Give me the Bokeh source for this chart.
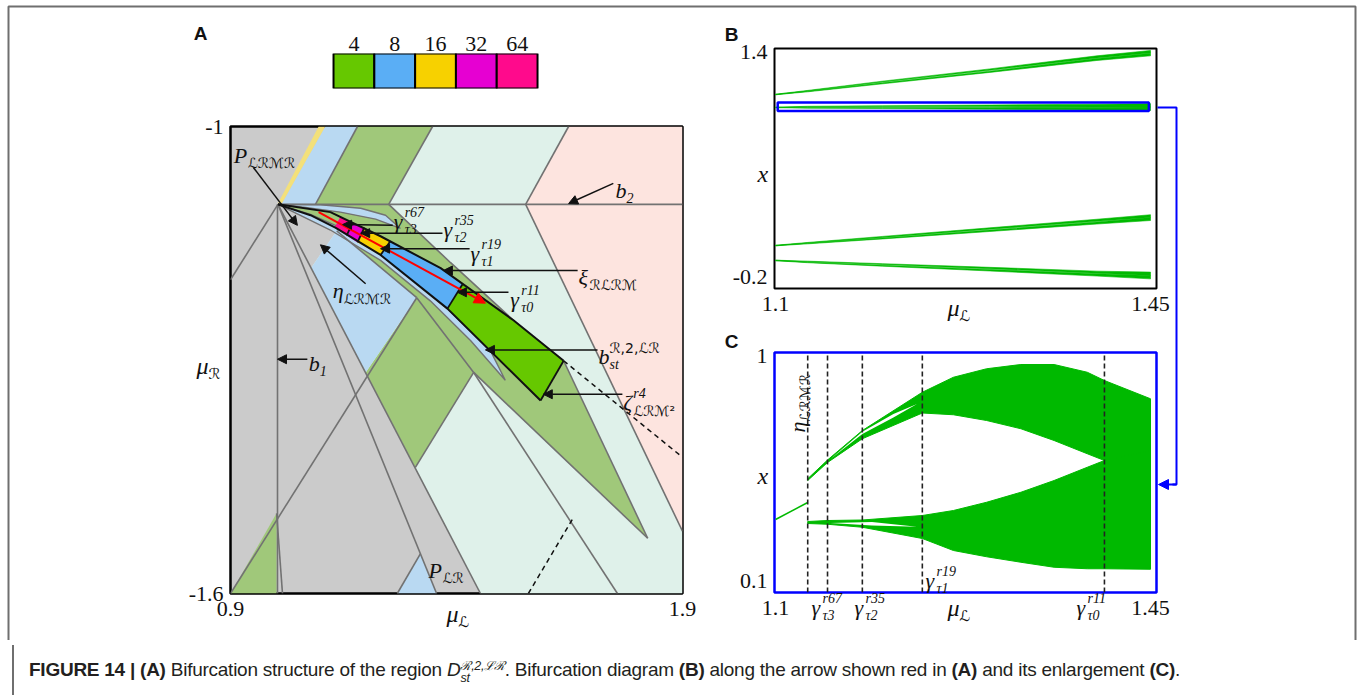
from math import pi, cos, sin
from bokeh.plotting import figure
from bokeh.models import Label, Arrow, NormalHead, FixedTicker, Range1d, Div
from bokeh.layouts import row, column
from bokeh.embed import file_html
from bokeh.resources import INLINE

# ============================ DATA ============================
# legend: period of the attractor
periods = ["4", "8", "16", "32", "64"]
period_colors = ["#66c800", "#5aaef5", "#f7d100", "#e600d2", "#ff0a8c"]

# ---- panel A : parameter plane (mu_L, mu_R) ----
a_xticks = [0.9, 1.9]
a_xlabels = ["0.9", "1.9"]
a_yticks = [-1.6, -1.0]
a_ylabels = ["-1.6", "-1"]

yel_l = [1.095, 1.110, 1.013, 1.004]
yel_r = [-1.0, -1.0, -1.1, -1.1]
blu1_l = [1.110, 1.181, 1.088, 1.013]
blu1_r = [-1.0, -1.0, -1.1, -1.1]
grn1_l = [1.181, 1.347, 1.250, 1.088]
grn1_r = [-1.0, -1.0, -1.1, -1.1]
mint1_l = [1.347, 1.648, 1.553, 1.250]
mint1_r = [-1.0, -1.0, -1.1, -1.1]
pink_l = [1.648, 1.9, 1.9, 1.553]
pink_r = [-1.0, -1.0, -1.52, -1.1]
mint2_l = [1.005, 1.553, 1.9, 1.9, 1.453, 1.079, 1.135]
mint2_r = [-1.1, -1.1, -1.52, -1.6, -1.6, -1.181, -1.134]
grn2_l = [1.005, 1.250, 1.387, 1.526, 1.637, 1.730, 1.823, 1.630, 1.438, 1.309, 1.199, 1.312, 1.135]
grn2_r = [-1.1, -1.1, -1.175, -1.249, -1.301, -1.416, -1.529, -1.423, -1.316, -1.438, -1.316, -1.220, -1.134]
eta_l = [1.135, 1.312, 1.199, 1.079]
eta_r = [-1.134, -1.220, -1.316, -1.181]
trig_l = [0.9, 1.002, 1.002]
trig_r = [-1.6, -1.497, -1.6]
trib_l = [1.269, 1.320, 1.356]
trib_r = [-1.6, -1.549, -1.6]
usl_l = [1.005, 1.099, 1.188, 1.243, 1.276, 1.221, 1.143, 1.066]
usl_r = [-1.1, -1.1005, -1.105, -1.114, -1.131, -1.119, -1.110, -1.104]
lsl_l = [1.005, 1.077, 1.132, 1.232, 1.380, 1.475, 1.508, 1.431, 1.342, 1.232, 1.121]
lsl_r = [-1.1, -1.113, -1.127, -1.163, -1.234, -1.288, -1.326, -1.275, -1.224, -1.172, -1.133]

# the absorbing strip (upper / lower black curves) and its period boxes
up_l = [1.005, 1.121, 1.232, 1.365, 1.526, 1.637]
up_r = [-1.1, -1.110, -1.141, -1.182, -1.249, -1.301]
lo_l = [1.005, 1.077, 1.132, 1.232, 1.380, 1.586]
lo_r = [-1.1, -1.114, -1.130, -1.165, -1.234, -1.352]
cut_up_l = [1.143, 1.170, 1.196, 1.254, 1.413, 1.637]
cut_up_r = [-1.116, -1.124, -1.130, -1.147, -1.203, -1.301]
cut_lo_l = [1.130, 1.157, 1.181, 1.232, 1.380, 1.586]
cut_lo_r = [-1.130, -1.140, -1.149, -1.165, -1.234, -1.352]
box_period = ["64", "32", "16", "8", "4"]

# bifurcation curves (gray)
curve_l = [[1.181, 1.088], [1.347, 1.250], [1.648, 1.553], [1.005, 1.9], [1.553, 1.9],
           [1.004, 1.004], [1.005, 0.9], [1.005, 1.356], [1.005, 1.453], [0.9, 1.312],
           [1.312, 1.438], [1.438, 1.309], [1.438, 1.756], [1.438, 1.823], [1.637, 1.823],
           [1.250, 1.387, 1.526], [1.135, 1.312], [1.269, 1.320], [1.002, 1.015]]
curve_r = [[-1.0, -1.1], [-1.0, -1.1], [-1.0, -1.1], [-1.1, -1.1], [-1.1, -1.52],
           [-1.1, -1.6], [-1.1, -1.197], [-1.1, -1.6], [-1.1, -1.6], [-1.6, -1.220],
           [-1.220, -1.316], [-1.316, -1.438], [-1.316, -1.6], [-1.316, -1.529], [-1.301, -1.529],
           [-1.1, -1.175, -1.249], [-1.134, -1.220], [-1.6, -1.549], [-1.497, -1.6]]
dash_l = [[1.637, 1.9], [1.559, 1.657]]
dash_r = [[-1.301, -1.425], [-1.6, -1.504]]
path_l = [1.095, 1.464]      # red arrow (1D path of panel B)
path_r = [-1.110, -1.227]

# ---- panel B : bifurcation diagram ----
b_xticks = [1.1, 1.45]
b_xlabels = ["1.1", "1.45"]
b_yticks = [-0.2, 1.4]
b_ylabels = ["-0.2", "1.4"]
b_mu = [1.10, 1.13, 1.20, 1.30, 1.40, 1.45]
band1a_top = [1.103, 1.130, 1.196, 1.283, 1.376, 1.414]
band1a_bot = [1.099, 1.126, 1.189, 1.273, 1.360, 1.396]
band1b_top = [1.103, 1.124, 1.184, 1.267, 1.357, 1.394]
band1b_bot = [1.099, 1.120, 1.177, 1.258, 1.343, 1.376]
band2a_top = [1.011, 1.017, 1.021, 1.026, 1.032, 1.036]
band2a_bot = [1.007, 1.013, 1.015, 1.015, 1.012, 1.012]
band2b_top = [1.011, 1.008, 1.009, 1.009, 1.011, 1.012]
band2b_bot = [1.007, 1.004, 1.001, 0.996, 0.990, 0.987]
band3a_top = [0.029, 0.049, 0.092, 0.153, 0.214, 0.246]
band3a_bot = [0.025, 0.045, 0.085, 0.143, 0.199, 0.226]
band3b_top = [0.029, 0.043, 0.081, 0.137, 0.195, 0.226]
band3b_bot = [0.025, 0.039, 0.074, 0.127, 0.180, 0.205]
band4a_top = [-0.077, -0.084, -0.102, -0.128, -0.155, -0.162]
band4a_bot = [-0.081, -0.088, -0.108, -0.138, -0.170, -0.186]
band4b_top = [-0.077, -0.091, -0.113, -0.143, -0.173, -0.186]
band4b_bot = [-0.081, -0.095, -0.120, -0.154, -0.190, -0.210]
zoom_box = (1.102, 1.4485, 0.983, 1.044)   # left, right, bottom, top

# ---- panel C : enlargement ----
c_xticks = [1.1, 1.45]
c_xlabels = ["1.1", "1.45"]
c_yticks = [0.1, 1.0]
c_ylabels = ["0.1", "1"]
c_init_x = [1.10, 1.13]
c_init_y = [0.344, 0.412]
c_mu = [1.13, 1.1485, 1.181, 1.237, 1.266, 1.297, 1.329, 1.36, 1.391, 1.407, 1.45]
c_up_top = [0.507, 0.582, 0.700, 0.853, 0.913, 0.947, 0.964, 0.964, 0.933, 0.900, 0.827]
c_up_bot = [0.500, 0.572, 0.667, 0.770, 0.763, 0.740, 0.707, 0.660, 0.607, 0.580, 0.580]
c_lo_top = [0.336, 0.340, 0.342, 0.360, 0.380, 0.413, 0.453, 0.500, 0.553, 0.580, 0.620]
c_lo_bot = [0.328, 0.325, 0.313, 0.268, 0.220, 0.195, 0.173, 0.153, 0.147, 0.147, 0.145]
gap_up_x = [1.151, 1.181, 1.21, 1.232, 1.21, 1.181]
gap_up_y = [0.585, 0.695, 0.766, 0.806, 0.752, 0.686]
gap_lo_x = [1.151, 1.19, 1.232, 1.19]
gap_lo_y = [0.330, 0.334, 0.315, 0.320]
c_marks = [1.130, 1.1485, 1.181, 1.237, 1.407]

# ============================ STYLE ============================
GRAY_BG = "#cbcbcb"
LBLUE = "#b9d9f2"
MGREEN = "#a0c87a"
MINT = "#dff1ea"
PINKBG = "#fde4df"
LYEL = "#f3e07a"
BIF_GREEN = "#00b900"
LINE_GRAY = "#727272"
TICK_FONT = "Liberation Serif"
SCRIPT = set("ℒℛℳ")


def make_fig(width, height, xr, yr, left, top, fw, fh):
    p = figure(width=width, height=height, x_range=Range1d(*xr), y_range=Range1d(*yr),
               output_backend="svg", toolbar_location=None,
               min_border_left=left, min_border_top=top,
               min_border_right=width - left - fw, min_border_bottom=height - top - fh,
               background_fill_color="white", border_fill_color="white",
               outline_line_color="black", outline_line_width=2)
    p.grid.visible = False
    return p


def style_axes(p, xt, xl, yt, yl, size="22px", xstand=8, ystand=7):
    p.xaxis.ticker = FixedTicker(ticks=xt)
    p.xaxis.major_label_overrides = dict(zip(xt, xl))
    p.xaxis.major_label_standoff = xstand
    if yt is not None:
        p.yaxis.ticker = FixedTicker(ticks=yt)
        p.yaxis.major_label_overrides = dict(zip(yt, yl))
        p.yaxis.major_label_standoff = ystand
    for ax in p.axis:
        ax.axis_line_color = None
        ax.major_tick_line_color = None
        ax.minor_tick_line_color = None
        ax.major_tick_out = 0
        ax.major_tick_in = 0
        ax.minor_tick_out = 0
        ax.major_label_text_font = TICK_FONT
        ax.major_label_text_font_size = size
        ax.major_label_text_color = "#111111"


def math_label(p, x, y, base, sub=None, sup=None, size=22, bw=11, angle=0.0,
               color="#111111"):
    ss = int(round(size * 0.64))

    def lab(text, dx, dy, fsize, font, style):
        xo = dx * cos(angle) - dy * sin(angle)
        yo = dx * sin(angle) + dy * cos(angle)
        p.add_layout(Label(x=x, y=y, x_offset=xo, y_offset=yo, text=text, angle=angle,
                           text_font=font, text_font_style=style,
                           text_font_size=f"{fsize}px", text_color=color,
                           text_align="left", text_baseline="middle"))

    lab(base, 0, 0, size, "Liberation Serif", "italic")
    for txt, dy in ((sub, -0.36 * size), (sup, 0.42 * size)):
        if txt:
            if any(c in SCRIPT for c in txt):
                lab(txt, bw, dy, ss, "DejaVu Sans", "normal")
            else:
                lab(txt, bw, dy, ss, "Liberation Serif", "italic")


# ============================ LEGEND ============================
leg_pos = [i + 0.5 for i in range(len(periods))]
pL = make_fig(720, 100, (-2.525, 8.553), (0, 1), 230, 53, 452, 35)
pL.outline_line_color = None
pL.yaxis.visible = False
pL.xaxis.visible = False
pL.add_layout(pL.xaxis[0].__class__(), "above")
style_axes(pL, leg_pos, periods, None, None, xstand=3)
pL.vbar(x=leg_pos, top=1, bottom=0, width=1, fill_color=period_colors,
        line_color="black", line_width=2)

# ============================ PANEL A ============================
pA = make_fig(720, 540, (0.9, 1.9), (-1.6, -1.0), 230, 26, 452, 467)
pA.background_fill_color = GRAY_BG
pA.outline_line_width = 2.5
style_axes(pA, a_xticks, a_xlabels, a_yticks, a_ylabels)

for xs, ys, col in [(yel_l, yel_r, LYEL), (blu1_l, blu1_r, LBLUE), (grn1_l, grn1_r, MGREEN),
                    (mint1_l, mint1_r, MINT), (pink_l, pink_r, PINKBG), (mint2_l, mint2_r, MINT),
                    (grn2_l, grn2_r, MGREEN), (eta_l, eta_r, LBLUE), (trig_l, trig_r, MGREEN),
                    (trib_l, trib_r, LBLUE), (lsl_l, lsl_r, LBLUE), (usl_l, usl_r, LBLUE)]:
    pA.patch(xs, ys, fill_color=col, line_color=None)

pA.multi_line(curve_l, curve_r, line_color=LINE_GRAY, line_width=1.6)
pA.patch(lsl_l, lsl_r, fill_color=None, line_color=LINE_GRAY, line_width=1.4)
pA.patch(usl_l, usl_r, fill_color=None, line_color=LINE_GRAY, line_width=1.4)

color_of = dict(zip(periods, period_colors))
for i, per in enumerate(box_period):
    inside_u = [(x, y) for x, y in zip(up_l, up_r) if cut_up_l[i] < x < cut_up_l[i + 1]]
    inside_l = [(x, y) for x, y in zip(lo_l, lo_r) if cut_lo_l[i] < x < cut_lo_l[i + 1]]
    ux = [cut_up_l[i]] + [q[0] for q in inside_u] + [cut_up_l[i + 1]]
    uy = [cut_up_r[i]] + [q[1] for q in inside_u] + [cut_up_r[i + 1]]
    lx = [cut_lo_l[i]] + [q[0] for q in inside_l] + [cut_lo_l[i + 1]]
    ly = [cut_lo_r[i]] + [q[1] for q in inside_l] + [cut_lo_r[i + 1]]
    pA.patch(ux + lx[::-1], uy + ly[::-1], fill_color=color_of[per], line_color=None)

pA.line(up_l, up_r, line_color="#111111", line_width=2)
pA.line(lo_l, lo_r, line_color="#111111", line_width=2)
pA.segment(x0=cut_up_l[1:], y0=cut_up_r[1:], x1=cut_lo_l[1:], y1=cut_lo_r[1:],
           line_color="#111111", line_width=1.8)
pA.multi_line(dash_l, dash_r, line_color="#111111", line_width=1.5, line_dash="5 4")

pA.add_layout(Arrow(x_start=path_l[0], y_start=path_r[0], x_end=path_l[1], y_end=path_r[1],
                    line_color="red", line_width=2,
                    end=NormalHead(size=11, fill_color="red", line_color="red")))

for x0, y0, x1, y1 in [(0.951, -1.053, 1.048, -1.127), (1.259, -1.127, 1.148, -1.126),
                       (1.369, -1.137, 1.188, -1.137), (1.429, -1.157, 1.232, -1.157),
                       (1.668, -1.185, 1.371, -1.185), (1.515, -1.213, 1.402, -1.213),
                       (1.199, -1.202, 1.099, -1.152), (1.747, -1.073, 1.648, -1.099),
                       (1.070, -1.299, 1.004, -1.299), (1.712, -1.287, 1.464, -1.287),
                       (1.767, -1.344, 1.592, -1.344)]:
    pA.add_layout(Arrow(x_start=x0, y_start=y0, x_end=x1, y_end=y1,
                        line_color="#111111", line_width=1.5,
                        end=NormalHead(size=9, fill_color="#111111", line_color="#111111")))

for base, sub, sup, x, y, bw in [("P", "ℒℛℳℛ", None, 0.907, -1.037, 14),
                                 ("γ", "τ3", "r67", 1.261, -1.122, 11),
                                 ("γ", "τ2", "r35", 1.371, -1.132, 11),
                                 ("γ", "τ1", "r19", 1.431, -1.163, 11),
                                 ("ξ", "ℛℒℛℳ", None, 1.670, -1.194, 11),
                                 ("γ", "τ0", "r11", 1.519, -1.222, 11),
                                 ("η", "ℒℛℳℛ", None, 1.126, -1.211, 11),
                                 ("b", "2", None, 1.752, -1.082, 11),
                                 ("b", "1", None, 1.073, -1.304, 11),
                                 ("b", "st", "ℛ,2,ℒℛ", 1.714, -1.296, 11),
                                 ("ζ", "ℒℛℳ²", "r4", 1.769, -1.355, 10),
                                 ("P", "ℒℛ", None, 1.338, -1.570, 14)]:
    math_label(pA, x, y, base, sub, sup, size=22, bw=bw)

# ============================ PANEL B ============================
pB = make_fig(640, 323, (1.099, 1.4556), (-0.2785, 1.428), 54, 48, 382, 240)
style_axes(pB, b_xticks, b_xlabels, b_yticks, b_ylabels)
for top, bot in [(band1a_top, band1a_bot), (band1b_top, band1b_bot),
                 (band2a_top, band2a_bot), (band2b_top, band2b_bot),
                 (band3a_top, band3a_bot), (band3b_top, band3b_bot),
                 (band4a_top, band4a_bot), (band4b_top, band4b_bot)]:
    pB.patch(b_mu + b_mu[::-1], top + bot[::-1], fill_color=BIF_GREEN, line_color=BIF_GREEN,
             line_width=0.6)
zl, zr, zb, zt = zoom_box
pB.quad(left=zl, right=zr, bottom=zb, top=zt, fill_color=None, line_color="#0000ff", line_width=2.5)

# ============================ PANEL C ============================
pC = make_fig(640, 317, (1.099, 1.4556), (0.052, 1.012), 54, 29, 382, 240)
pC.outline_line_color = "#0000ff"
pC.outline_line_width = 2.5
style_axes(pC, c_xticks, c_xlabels, c_yticks, c_ylabels)
pC.line(c_init_x, c_init_y, line_color=BIF_GREEN, line_width=1.5)
pC.patch(c_mu + c_mu[::-1], c_up_top + c_up_bot[::-1], fill_color=BIF_GREEN, line_color=BIF_GREEN, line_width=1)
pC.patch(c_mu + c_mu[::-1], c_lo_top + c_lo_bot[::-1], fill_color=BIF_GREEN, line_color=BIF_GREEN, line_width=1)
pC.patch(gap_up_x, gap_up_y, fill_color="white", line_color=None)
pC.patch(gap_lo_x, gap_lo_y, fill_color="white", line_color=None)
pC.segment(x0=c_marks, y0=0.052, x1=c_marks, y1=1.012, line_color="#222222",
           line_width=1.6, line_dash="5 3")

# ============================ OVERLAY (page decorations) ============================
# transparent figure laid over the whole figure area; coordinates = window pixels
ov = figure(width=1360, height=640, x_range=Range1d(0, 1360), y_range=Range1d(640, 0),
            output_backend="svg", toolbar_location=None, x_axis_location=None,
            y_axis_location=None, min_border=0, outline_line_color=None,
            background_fill_alpha=0, border_fill_alpha=0, margin=(-640, 0, 0, 0))
ov.grid.visible = False
# outer frame of the figure (open at the bottom)
ov.line([8, 8, 1355, 1355], [640, 6, 6, 640], line_color="#6f6f6f", line_width=2)
# connector from the zoom box in B to panel C
ov.line([1157, 1176, 1176, 1172], [107, 107, 484, 484], line_color="#0000ff", line_width=2)
ov.add_layout(Arrow(x_start=1176, y_start=484, x_end=1158, y_end=484, line_color="#0000ff",
                    line_width=2, end=NormalHead(size=10, fill_color="#0000ff", line_color="#0000ff")))
for txt, lx, ly in [("A", 200, 33), ("B", 731, 34), ("C", 731, 341)]:
    ov.add_layout(Label(x=lx, y=ly, text=txt, text_font="Liberation Sans", text_font_style="bold",
                        text_font_size="19px", text_align="center", text_baseline="middle",
                        text_color="#111111"))
math_label(ov, 446, 613, "μ", "ℒ", size=24, bw=12)
math_label(ov, 196, 365, "μ", "ℛ", size=24, bw=12)
math_label(ov, 947, 307, "μ", "ℒ", size=24, bw=12)
math_label(ov, 757, 173, "x", size=24)
math_label(ov, 947, 607, "μ", "ℒ", size=24, bw=12)
math_label(ov, 757, 475, "x", size=24)
for base, sub, sup, lx, ly in [("γ", "τ3", "r67", 811, 607), ("γ", "τ2", "r35", 854, 607),
                               ("γ", "τ0", "r11", 1076, 607), ("γ", "τ1", "r19", 925, 580)]:
    math_label(ov, lx, ly, base, sub, sup, size=22, bw=11)
math_label(ov, 797, 432, "η", "ℒℛℳℛ", size=22, bw=11, angle=pi / 2)

# ============================ CAPTION ============================
caption = Div(width=1360, height=54, text=(
    '<div style="font-family:\'Liberation Sans Narrow\',\'Liberation Sans\',Arial,sans-serif;'
    'font-size:19px;letter-spacing:-0.25px;color:#231f20;white-space:nowrap;box-sizing:border-box;'
    'margin-left:7px;width:1350px;height:54px;padding:11px 0 0 15px;border-left:2px solid #6f6f6f;'
    'border-right:2px solid #6f6f6f;">'
    '<b>FIGURE 14 | (A)</b> Bifurcation structure of the region <i>D</i>'
    '<span style="display:inline-block;vertical-align:-0.5em;line-height:0.95;font-size:0.66em;font-style:italic">'
    '<span style="display:block">ℛ,2,ℒℛ</span><span style="display:block">st</span></span>'
    '. Bifurcation diagram <b>(B)</b> along the arrow shown red in <b>(A)</b> and its enlargement '
    '<b>(C)</b>.</div>'))

layout = column(row(column(pL, pA), column(pB, pC)), ov, caption)
open("out.html", "w").write(file_html(layout, INLINE))
